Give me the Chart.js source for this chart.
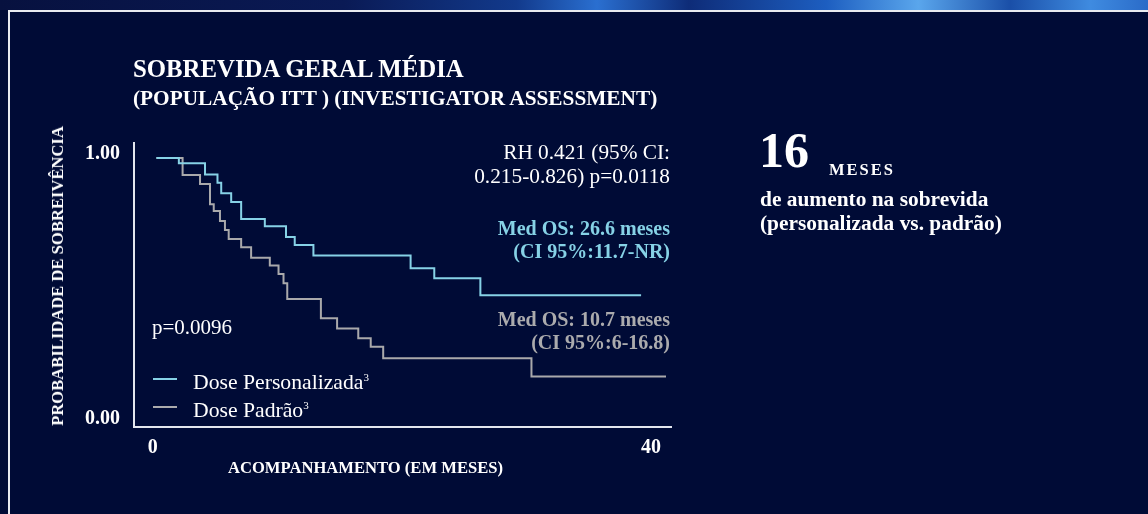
<!DOCTYPE html>
<html>
<head>
<meta charset="utf-8">
<script src="https://cdn.jsdelivr.net/npm/chart.js@4.4.1/dist/chart.umd.min.js"></script>
<style>
  html, body { margin: 0; padding: 0; }
  body { width: 1148px; height: 514px; background: #000b36; overflow: hidden; position: relative;
         font-family: 'Liberation Serif', 'Times New Roman', serif; color: #fff; }
  .band { position: absolute; left: 0; top: 0; width: 1148px; height: 10px;
          background: linear-gradient(90deg, #07113f 0%, #0a1a55 30%, #123a8c 45%, #2a6fd0 52%, #0e2c78 60%,
                      #1d5ec0 72%, #5aa6ec 80%, #1a4fa8 88%, #3f8be0 95%, #2a6bc8 100%); }
  .frame { position: absolute; left: 8px; top: 10px; width: 1200px; height: 600px;
           border-left: 2px solid #e9ebf0; border-top: 2px solid #e9ebf0; }
  canvas { position: absolute; left: 0; top: 0; }
  .t { position: absolute; white-space: nowrap; }
  .b { font-weight: bold; }
  .r { text-align: right; }
</style>
</head>
<body>
<div class="band"></div>
<div class="frame"></div>
<canvas id="osChart" width="1148" height="514" style="width:1148px;height:514px"></canvas>

<div class="t b" style="left:133px;top:54px;font-size:24.8px;line-height:30px;">SOBREVIDA GERAL MÉDIA</div>
<div class="t b" style="left:133px;top:86px;font-size:21.3px;line-height:25px;">(POPULAÇÃO ITT ) (INVESTIGATOR ASSESSMENT)</div>

<div class="t b" style="left:58px;top:276px;font-size:16.6px;line-height:20px;transform:translate(-50%,-50%) rotate(-90deg);">PROBABILIDADE DE SOBREIVÊNCIA</div>
<div class="t b" style="left:228px;top:458px;font-size:16.6px;line-height:20px;">ACOMPANHAMENTO (EM MESES)</div>

<div class="t r" style="right:478px;top:140px;font-size:21.3px;line-height:25px;">RH 0.421 (95% CI:</div>
<div class="t r" style="right:478px;top:164px;font-size:21.3px;line-height:25px;">0.215-0.826) p=0.0118</div>
<div class="t r b" style="right:478px;top:216px;font-size:20px;line-height:25px;color:#86d2e6;">Med OS: 26.6 meses</div>
<div class="t r b" style="right:478px;top:239px;font-size:20px;line-height:25px;color:#86d2e6;">(CI 95%:11.7-NR)</div>
<div class="t r b" style="right:478px;top:307px;font-size:20px;line-height:25px;color:#ababad;">Med OS: 10.7 meses</div>
<div class="t r b" style="right:478px;top:330px;font-size:20px;line-height:25px;color:#ababad;">(CI 95%:6-16.8)</div>

<div class="t" style="left:152px;top:315px;font-size:21px;line-height:25px;">p=0.0096</div>

<div class="t" style="left:153px;top:378px;width:24px;height:2px;background:#86d2e6;"></div>
<div class="t" style="left:153px;top:406px;width:24px;height:2px;background:#ababad;"></div>
<div class="t" style="left:193px;top:365px;font-size:21.7px;line-height:25px;">Dose Personalizada<sup style="font-size:11px;">3</sup></div>
<div class="t" style="left:193px;top:393px;font-size:21.7px;line-height:25px;">Dose Padrão<sup style="font-size:11px;">3</sup></div>

<div class="t b" style="left:759px;top:120px;font-size:50px;line-height:60px;">16</div>
<div class="t b" style="left:829px;top:160px;font-size:16.5px;line-height:20px;letter-spacing:2px;">MESES</div>
<div class="t b" style="left:760px;top:187px;font-size:21.4px;line-height:24px;">de aumento na sobrevida</div>
<div class="t b" style="left:760px;top:211px;font-size:21.4px;line-height:24px;">(personalizada vs. padrão)</div>

<script>
// Kaplan-Meier steps (months, survival after each drop)
const monthsPersonalizada = [0.3, 2.1, 4.2, 5.2, 5.5, 6.3, 7.1, 9.0, 10.7, 11.4, 12.9, 20.7, 22.6, 26.3, 39.2];
const survivalPersonalizada = [1.0, 0.98, 0.938, 0.907, 0.867, 0.834, 0.77, 0.742, 0.702, 0.672, 0.632, 0.584, 0.546, 0.482, 0.482];

const monthsPadrao = [0.3, 2.4, 3.8, 4.6, 4.9, 5.4, 5.8, 6.1, 7.1, 7.9, 9.4, 10.1, 10.5, 10.8, 13.5, 14.8, 16.5, 17.5, 18.5, 30.4, 41.2];
const survivalPadrao = [1.0, 0.936, 0.902, 0.825, 0.8, 0.762, 0.728, 0.694, 0.663, 0.624, 0.594, 0.562, 0.527, 0.468, 0.395, 0.357, 0.32, 0.288, 0.244, 0.175, 0.175];

const xTicks = [0, 40];
const yTicks = [0, 1];
const yTickLabels = ['0.00', '1.00'];

const toPoints = (xs, ys) => xs.map((x, i) => ({ x: x, y: ys[i] }));
const axisColor = '#e3e6ee';

Chart.defaults.font.family = "'Liberation Serif', 'Times New Roman', serif";

new Chart(document.getElementById('osChart'), {
    type: 'line',
    data: {
        datasets: [{
            label: 'Dose Personalizada',
            data: toPoints(monthsPersonalizada, survivalPersonalizada),
            borderColor: '#86d2e6',
            borderWidth: 2,
            stepped: 'before',
            pointRadius: 0,
            fill: false,
        },
        {
            label: 'Dose Padrão',
            data: toPoints(monthsPadrao, survivalPadrao),
            borderColor: '#a9a9ab',
            borderWidth: 2,
            stepped: 'before',
            pointRadius: 0,
            fill: false,
        }],
    },
    options: {
        responsive: false,
        animation: false,
        devicePixelRatio: 1,
        layout: {
            padding: { left: 0, top: 143, right: 477, bottom: 0 }
        },
        plugins: {
            legend: { display: false },
            title: { display: false },
            tooltip: { enabled: false },
        },
        scales: {
            x: {
                type: 'linear',
                min: -1.5,
                max: 41.6,
                afterBuildTicks: s => { s.ticks = xTicks.map(v => ({ value: v })); },
                afterFit: s => { s.height = 87; },
                grid: { display: false, drawTicks: false },
                border: { display: true, color: axisColor, width: 2 },
                ticks: {
                    color: '#ffffff',
                    font: { size: 20, weight: 'bold' },
                    padding: 9,
                    maxRotation: 0,
                    autoSkip: false,
                    callback: v => String(v),
                },
            },
            y: {
                type: 'linear',
                min: -0.0151,
                max: 1.0566,
                afterBuildTicks: s => { s.ticks = yTicks.map(v => ({ value: v })); },
                afterFit: s => { s.width = 134; },
                grid: { display: false, drawTicks: false },
                border: { display: true, color: axisColor, width: 2 },
                ticks: {
                    color: '#ffffff',
                    font: { size: 20, weight: 'bold' },
                    padding: 14,
                    labelOffset: -4,
                    autoSkip: false,
                    callback: v => yTickLabels[yTicks.indexOf(v)],
                },
            },
        },
    },
});
</script>
</body>
</html>
